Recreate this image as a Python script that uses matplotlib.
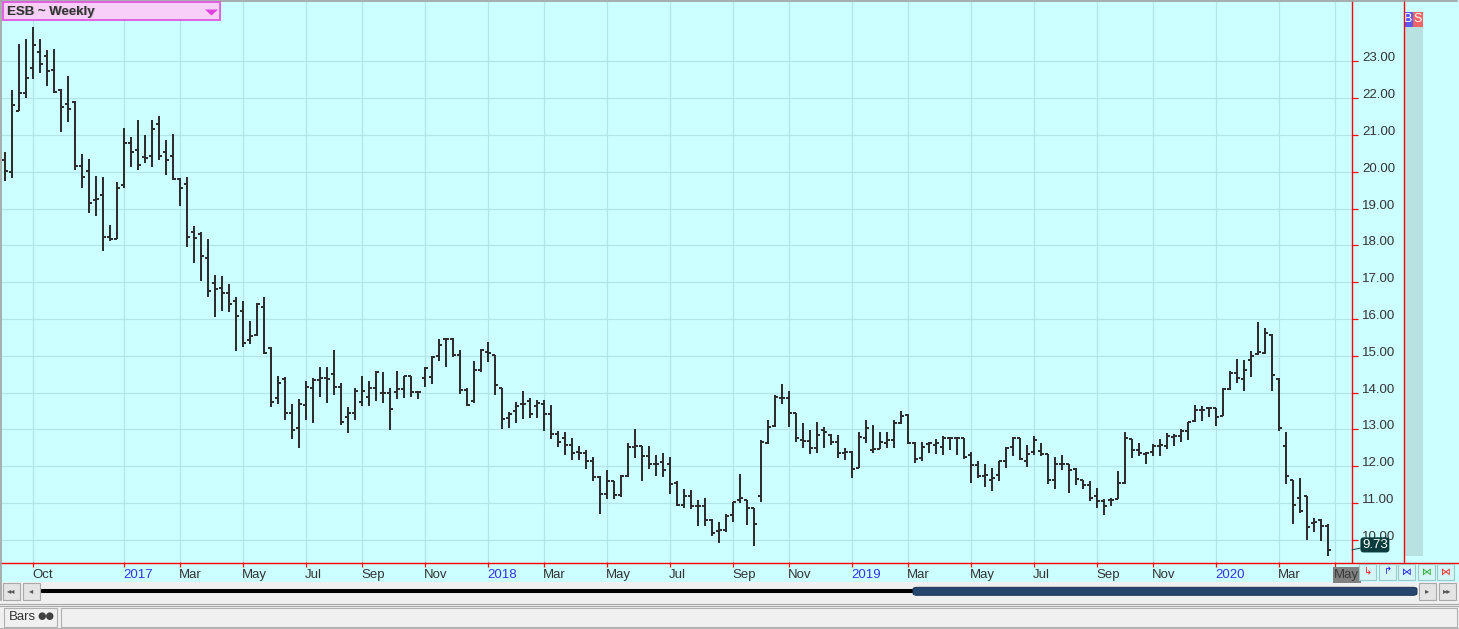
import matplotlib
matplotlib.use('Agg')
import matplotlib.pyplot as plt
import matplotlib.dates as mdates
import matplotlib.transforms as mtrans
from matplotlib.patches import Rectangle, FancyBboxPatch, Polygon
from matplotlib.lines import Line2D
import pandas as pd

plt.rcParams['font.family'] = ['Liberation Sans', 'DejaVu Sans']

# weekly OHLC bars (week ending Friday)
symbol = 'ESB ~ Weekly'
week_ending = pd.date_range('2016-09-09', periods=190, freq='W-FRI')

opens = [20.32, 19.98, 21.66, 22.13, 22.83, 23.26, 23.15, 22.76, 22.22, 21.85,
         21.90, 20.16, 20.01, 19.23, 19.36, 18.24, 18.18, 19.65, 20.77, 20.60,
         20.40, 20.44, 21.31, 20.53, 20.44, 19.80, 19.66, 18.36, 18.30, 17.67,
         16.98, 16.84, 16.71, 16.50, 16.23, 15.43, 15.57, 16.33, 15.20, 13.85,
         14.36, 13.45, 13.03, 13.66, 14.12, 14.35, 14.41, 14.51, 14.16, 13.33,
         13.44, 13.75, 13.89, 14.13, 14.00, 14.00, 14.02, 14.10, 14.44, 14.03,
         14.41, 14.42, 15.00, 15.47, 15.47, 15.02, 14.07, 13.78, 14.62, 15.11,
         15.01, 14.13, 13.32, 13.50, 13.68, 13.77, 13.65, 13.68, 13.41, 12.89,
         12.77, 12.59, 12.38, 12.36, 12.14, 11.70, 11.25, 11.59, 11.23, 11.73,
         12.53, 12.55, 12.27, 12.07, 12.11, 12.07, 11.56, 10.95, 11.20, 10.93,
         10.91, 10.55, 10.23, 10.26, 10.67, 11.09, 11.09, 10.86, 11.20, 12.62,
         13.09, 13.86, 13.86, 13.46, 12.71, 12.69, 12.51, 12.98, 12.85, 12.67,
         12.35, 12.40, 11.95, 12.76, 12.44, 12.47, 12.62, 12.71, 13.18, 13.39,
         12.64, 12.22, 12.60, 12.58, 12.53, 12.77, 12.77, 12.76, 12.32, 12.04,
         11.74, 11.63, 11.77, 12.15, 12.52, 12.77, 12.14, 12.39, 12.41, 12.34,
         11.62, 12.06, 12.05, 11.93, 11.62, 11.50, 11.20, 11.05, 11.09, 11.11,
         11.55, 12.74, 12.45, 12.34, 12.38, 12.54, 12.56, 12.79, 12.83, 12.95,
         13.22, 13.54, 13.58, 13.58, 13.38, 14.11, 14.53, 14.37, 14.90, 15.05,
         15.08, 15.57, 14.37, 12.54, 11.62, 11.14, 11.19, 10.46, 10.55, 10.39]

highs = [20.53, 22.21, 23.47, 23.60, 23.94, 23.60, 23.31, 23.33, 22.24, 22.60,
         21.92, 20.48, 20.34, 19.89, 19.86, 18.56, 19.71, 21.18, 20.95, 21.41,
         20.99, 21.41, 21.51, 20.87, 21.02, 19.82, 19.86, 18.54, 18.36, 18.17,
         17.20, 17.16, 16.95, 16.60, 16.48, 15.96, 16.44, 16.61, 15.24, 14.44,
         14.42, 13.69, 13.83, 14.33, 14.39, 14.69, 14.69, 15.16, 14.25, 13.60,
         14.14, 14.45, 14.32, 14.60, 14.57, 14.12, 14.60, 14.44, 14.44, 14.05,
         14.69, 15.00, 15.45, 15.48, 15.48, 15.16, 14.12, 14.85, 15.18, 15.38,
         15.03, 14.13, 13.48, 13.75, 14.04, 13.86, 13.80, 13.81, 13.66, 12.97,
         12.93, 12.77, 12.55, 12.43, 12.26, 11.73, 11.91, 11.59, 11.76, 12.64,
         13.00, 12.55, 12.55, 12.32, 12.35, 12.26, 11.59, 11.39, 11.36, 11.09,
         11.14, 10.57, 10.49, 10.71, 11.02, 11.79, 11.09, 10.88, 12.71, 13.27,
         13.95, 14.23, 14.04, 13.46, 13.18, 12.98, 13.21, 13.07, 12.89, 12.86,
         12.50, 12.41, 12.92, 13.27, 13.12, 12.92, 12.92, 13.25, 13.50, 13.41,
         12.67, 12.67, 12.67, 12.73, 12.83, 12.80, 12.78, 12.78, 12.40, 12.14,
         12.05, 11.95, 12.15, 12.52, 12.80, 12.77, 12.59, 12.83, 12.63, 12.34,
         12.24, 12.32, 12.06, 11.95, 11.62, 11.59, 11.41, 11.11, 11.14, 11.86,
         12.92, 12.74, 12.63, 12.38, 12.61, 12.74, 12.90, 12.89, 13.01, 13.19,
         13.67, 13.63, 13.61, 13.58, 14.13, 14.60, 14.91, 14.90, 15.12, 15.92,
         15.76, 15.60, 14.40, 12.92, 11.64, 11.68, 11.19, 10.60, 10.57, 10.42]

lows = [19.76, 19.82, 21.65, 21.99, 22.53, 22.67, 22.34, 22.13, 21.09, 21.34,
        20.05, 19.57, 18.87, 18.79, 17.84, 18.12, 18.17, 19.57, 20.14, 20.05,
        20.25, 20.14, 20.31, 19.91, 19.78, 19.06, 17.97, 17.52, 17.02, 16.60,
        16.06, 16.22, 16.19, 15.12, 15.24, 15.31, 15.55, 15.05, 13.62, 13.69,
        13.25, 12.75, 12.50, 13.27, 13.18, 13.89, 13.73, 13.93, 13.11, 12.91,
        13.25, 13.64, 13.65, 13.78, 13.71, 12.99, 13.82, 13.85, 13.89, 13.84,
        14.15, 14.24, 14.87, 14.71, 14.96, 13.96, 13.64, 13.71, 14.57, 14.84,
        13.95, 13.02, 13.03, 13.18, 13.29, 13.32, 13.32, 12.95, 12.74, 12.53,
        12.30, 12.18, 12.18, 11.93, 11.59, 10.71, 11.10, 11.11, 11.16, 11.71,
        12.23, 11.59, 11.93, 11.73, 11.71, 11.25, 10.91, 10.86, 10.84, 10.37,
        10.39, 10.10, 9.92, 10.21, 10.48, 11.00, 10.41, 9.83, 11.02, 12.60,
        13.07, 13.68, 13.07, 12.67, 12.49, 12.33, 12.35, 12.49, 12.58, 12.22,
        12.17, 11.68, 11.95, 12.62, 12.35, 12.46, 12.51, 12.51, 13.16, 12.60,
        12.08, 12.15, 12.35, 12.33, 12.31, 12.44, 12.31, 12.19, 11.54, 11.69,
        11.43, 11.34, 11.60, 11.95, 12.27, 12.16, 11.98, 12.32, 12.27, 11.53,
        11.38, 11.91, 11.28, 11.50, 11.38, 11.05, 10.87, 10.67, 10.91, 11.11,
        11.53, 12.23, 12.27, 12.05, 12.27, 12.29, 12.47, 12.56, 12.65, 12.72,
        13.19, 13.22, 13.34, 13.09, 13.36, 14.08, 14.26, 14.04, 14.43, 15.03,
        15.06, 14.04, 12.95, 11.53, 10.43, 10.73, 10.01, 10.21, 9.96, 9.56]

closes = [20.01, 21.80, 22.15, 22.56, 23.45, 22.94, 22.75, 22.17, 21.75, 21.71,
          20.17, 19.87, 19.14, 19.26, 18.24, 18.18, 19.56, 20.77, 20.55, 20.19,
          20.38, 21.16, 20.44, 20.33, 19.80, 19.55, 18.24, 18.20, 17.72, 16.77,
          16.82, 16.71, 16.42, 16.07, 15.36, 15.53, 16.41, 15.08, 13.74, 14.27,
          13.45, 12.98, 13.68, 14.15, 14.35, 14.39, 14.38, 14.16, 13.20, 13.44,
          14.05, 14.05, 14.12, 14.57, 13.98, 13.57, 14.10, 14.44, 14.03, 14.03,
          14.68, 14.98, 15.30, 15.47, 15.02, 14.07, 13.66, 14.62, 15.16, 15.09,
          14.20, 13.29, 13.41, 13.65, 13.69, 13.41, 13.72, 13.43, 12.89, 12.66,
          12.59, 12.36, 12.36, 12.14, 11.70, 11.25, 11.59, 11.23, 11.73, 12.53,
          12.56, 12.27, 12.07, 12.07, 11.89, 11.53, 10.95, 11.20, 10.93, 10.91,
          10.55, 10.19, 10.26, 10.64, 11.02, 11.15, 10.86, 10.44, 12.67, 13.07,
          13.88, 13.86, 13.46, 12.76, 12.69, 12.51, 12.86, 12.94, 12.67, 12.35,
          12.40, 11.93, 12.80, 13.05, 12.47, 12.67, 12.71, 13.18, 13.37, 12.64,
          12.19, 12.53, 12.62, 12.64, 12.77, 12.77, 12.76, 12.24, 12.04, 11.74,
          11.77, 11.68, 12.15, 12.51, 12.77, 12.21, 12.34, 12.71, 12.34, 11.62,
          12.06, 12.05, 11.91, 11.66, 11.50, 11.14, 11.05, 10.91, 11.09, 11.55,
          12.77, 12.45, 12.36, 12.36, 12.54, 12.59, 12.81, 12.83, 12.95, 13.19,
          13.54, 13.52, 13.58, 13.34, 14.11, 14.53, 14.40, 14.62, 14.99, 15.10,
          15.62, 14.49, 13.04, 11.73, 10.96, 10.78, 10.35, 10.49, 10.39, 9.73]

price_ticks = list(range(10, 24))

W, H = 1459, 629
CYAN = '#ccffff'
GRID = '#b4e4e8'
BAR = '#2e2e2e'
RED = '#ff0000'
TXT = '#333333'


def fx(px):
    return px / W


def fy(py):
    return 1 - py / H


def frect(x0, y0, x1, y1, **kw):
    r = Rectangle((fx(x0), fy(y1)), (x1 - x0) / W, (y1 - y0) / H,
                  transform=fig.transFigure, **kw)
    fig.patches.append(r)
    return r


def fline(x0, y0, x1, y1, **kw):
    fig.lines.append(Line2D([fx(x0), fx(x1)], [fy(y0), fy(y1)],
                            transform=fig.transFigure, **kw))


fig = plt.figure(figsize=(W / 100, H / 100), dpi=100)
fig.patch.set_facecolor('#f0f0f0')

# chart background (plot + axis strips)
frect(0, 0, W, 582, facecolor=CYAN, edgecolor='none', zorder=-10)

ax = fig.add_axes([fx(1), fy(562), 1351 / W, 561 / H])
ax.set_facecolor(CYAN)
ax.set_zorder(1)

xs = mdates.date2num(week_ending)
ax.set_xlim(xs[0] - 3.7, xs[0] + 1347.3)
ax.set_ylim(9.401, 24.638)

# month ticks: first bar of each month, odd months, not too close together
all_weeks = pd.date_range(week_ending[0], periods=len(week_ending) + 1, freq='W-FRI')
tick_idx = []
for i in range(1, len(all_weeks)):
    if all_weeks[i].month != all_weeks[i - 1].month:
        if not tick_idx:
            tick_idx.append(i)
        elif all_weeks[i].month % 2 == 1 and i - tick_idx[-1] >= 7:
            tick_idx.append(i)
tick_x = mdates.date2num(all_weeks[tick_idx])

# grid
ax.vlines(tick_x, 0, 1, transform=ax.get_xaxis_transform(), colors=GRID,
          lw=0.9, zorder=1)
ax.hlines(price_ticks, 0, 1, transform=ax.get_yaxis_transform(), colors=GRID,
          lw=0.9, zorder=1)

# OHLC bars
ax.vlines(xs, lows, highs, colors=BAR, lw=1.44, zorder=3, antialiased=False)
ax.hlines(opens, xs - 3.2, xs, colors=BAR, lw=1.44, zorder=3, antialiased=False)
ax.hlines(closes, xs, xs + 3.2, colors=BAR, lw=1.44, zorder=3, antialiased=False)

for s in ['top', 'left', 'bottom']:
    ax.spines[s].set_visible(False)
ax.spines['right'].set_color(RED)
ax.spines['right'].set_linewidth(1.0)

ax.yaxis.set_ticks_position('right')
ax.set_yticks(price_ticks)
ax.set_xticks(tick_x)
ax.tick_params(axis='y', direction='out', length=4, width=0.9, color=RED,
               labelright=False, labelleft=False)
ax.tick_params(axis='x', direction='out', length=3.6, width=0.9, color=RED,
               labelbottom=False)

# price labels
ytr = mtrans.offset_copy(ax.get_yaxis_transform(), fig=fig, x=10, y=0, units='dots')
for p in price_ticks:
    ax.text(1, p, f'{p:.2f}', transform=ytr, ha='left', va='baseline',
            fontsize=9.5, color=TXT, clip_on=False, zorder=5)

# date labels
xtr = mtrans.offset_copy(ax.get_xaxis_transform(), fig=fig, x=-0.5, y=-16, units='dots')
for i, x in zip(tick_idx, tick_x):
    d = all_weeks[i]
    if i == len(all_weeks) - 1:
        ax.text(x, 0, d.strftime('%b'), transform=xtr, ha='left', va='baseline',
                fontsize=9.5, color='#3a3a3a', clip_on=False, zorder=6,
                bbox=dict(boxstyle='square,pad=0.12', fc='#808080', ec='none'))
    elif d.month == 1:
        ax.text(x, 0, str(d.year), transform=xtr, ha='left', va='baseline',
                fontsize=9.5, color='#3333ee', clip_on=False)
    else:
        ax.text(x, 0, d.strftime('%b'), transform=xtr, ha='left', va='baseline',
                fontsize=9.5, color=TXT, clip_on=False)

# last price marker
ax.annotate(f'{closes[-1]:.2f}', xy=(1, closes[-1]), xycoords=ax.get_yaxis_transform(),
            xytext=(7.2, 3.6), textcoords='offset points', ha='left', va='center',
            fontsize=9.5, color='white', zorder=7, annotation_clip=False,
            bbox=dict(boxstyle='round,pad=0.12,rounding_size=0.25', fc='#0b3d3d', ec='none'),
            arrowprops=dict(arrowstyle='-', color='#0b3d3d', lw=0.7, shrinkA=0, shrinkB=0))

# red frame lines
fline(0, 562.5, W, 562.5, color=RED, lw=1.0, zorder=4)
fline(1403.5, 0, 1403.5, 562.5, color=RED, lw=1.0, zorder=4)
fline(0, 0.5, W - 2, 0.5, color='#a0a0a0', lw=1.2, zorder=4)
fline(0.5, 0, 0.5, 600, color='#a0a0a0', lw=1.2, zorder=4)

# B / S column
frect(1404, 27, 1423, 556, facecolor='#b8e2e2', edgecolor='none', zorder=2)
frect(1404, 12, 1413, 27, facecolor='#5a5af6', edgecolor='none', zorder=3)
frect(1413, 12, 1423, 27, facecolor='#f06464', edgecolor='none', zorder=3)
fig.text(fx(1408.5), fy(19.5), 'B', ha='center', va='center', fontsize=9, color='white')
fig.text(fx(1418), fy(19.5), 'S', ha='center', va='center', fontsize=9, color='white')

# symbol box
frect(2.5, 2.5, 220, 20, facecolor='#f7cff7', edgecolor='#e060e0', lw=1.4, zorder=8)
fig.patches.append(Polygon([[fx(205), fy(9.5)], [fx(218), fy(9.5)], [fx(211.5), fy(15.5)]],
                           closed=True, transform=fig.transFigure, facecolor='#e040e0',
                           edgecolor='none', zorder=9))
fig.text(fx(8.5), fy(11.5), symbol, ha='left', va='center', fontsize=9.5, fontweight='bold',
         color='#c0a8c0', zorder=9)
fig.text(fx(7), fy(11.5), symbol, ha='left', va='center', fontsize=9.5, fontweight='bold',
         color=TXT, zorder=10)

# small tool buttons under the price axis
btn_x = [1359, 1379, 1398, 1418, 1437]
btn_sym = ['\u21b3', '\u21b1', '\u22c8', '\u22c8', '\u22c8']
btn_col = ['#ee2222', '#2222ee', '#2222ee', '#22aa22', '#ee2222']
for bx, sy, bc in zip(btn_x, btn_sym, btn_col):
    frect(bx, 564, bx + 17, 579.5, facecolor='#d4f6f6', edgecolor='#9cc8c8', lw=0.8, zorder=5)
    fig.text(fx(bx + 8.5), fy(571.5), sy, ha='center', va='center', fontsize=7,
             color=bc, family='DejaVu Sans', zorder=6)

# scroll bar
for bx, sy in [(3, '\u25c2\u25c2'), (23, '\u25c2'), (1419, '\u25b8'), (1439, '\u25b8\u25b8')]:
    frect(bx, 583, bx + 17, 599.5, facecolor='#e4e4e4', edgecolor='#a8a8a8', lw=0.8, zorder=5)
    fig.text(fx(bx + 8.5), fy(591), sy, ha='center', va='center', fontsize=6,
             color='#555555', family='DejaVu Sans', zorder=6)
fline(42, 591, 912, 591, color='black', lw=2.9, solid_capstyle='round', zorder=5)
fig.patches.append(FancyBboxPatch((fx(913), fy(595.3)), (1417 - 913) / W, 8 / H,
                                  boxstyle='round,pad=0,rounding_size=0.003',
                                  transform=fig.transFigure, facecolor='#26466e',
                                  edgecolor='#1b3354', lw=0.7, zorder=6))

# status bar
fline(0, 603.5, W, 603.5, color='#a8a8a8', lw=0.8)
fline(0, 606, W, 606, color='#a8a8a8', lw=0.8)
frect(3.5, 607.5, 57, 627, facecolor='#f0f0f0', edgecolor='#b0b0b0', lw=0.8, zorder=5)
frect(60.5, 607.5, 1457, 627, facecolor='#f0f0f0', edgecolor='#b0b0b0', lw=0.8, zorder=5)
fig.text(fx(9), fy(617), 'Bars', ha='left', va='center', fontsize=9.5, color=TXT, zorder=6)
fig.text(fx(37), fy(616.5), '\u25cf\u25cf', ha='left', va='center', fontsize=7,
         color='#404040', family='DejaVu Sans', zorder=6)
fline(0, 628.5, W, 628.5, color='#a8a8a8', lw=1.2)

fig.savefig('out.png', dpi=100, facecolor=fig.get_facecolor())
